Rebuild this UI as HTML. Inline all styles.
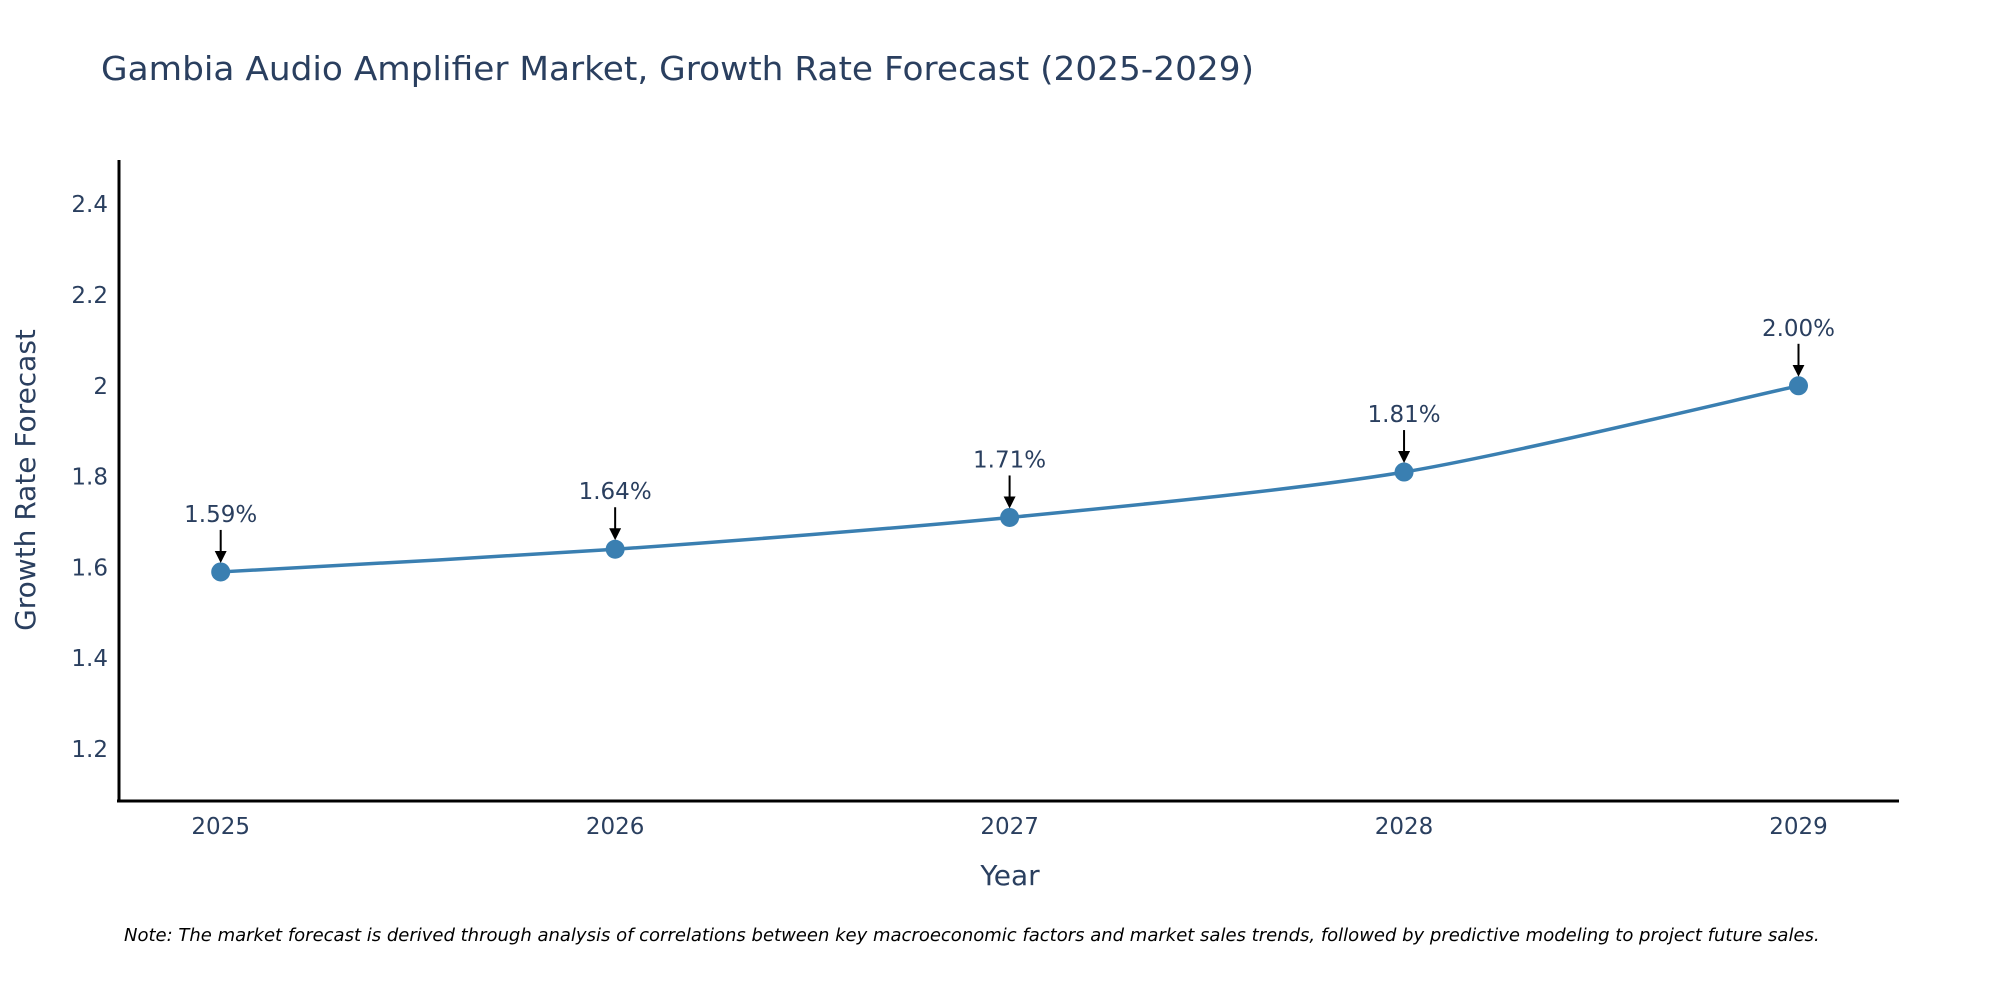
<!DOCTYPE html>
<html><head><meta charset="utf-8"><style>
html,body{margin:0;padding:0;background:#fff;}
svg{display:block;font-family:"DejaVu Sans","Liberation Sans",sans-serif;}
</style></head><body>
<svg id="chart" width="2000" height="1000" viewBox="0 0 2000 1000">
<defs><marker id="ah" markerWidth="6" markerHeight="6" refX="4.5" refY="3" orient="auto" markerUnits="strokeWidth"><path d="M0,0 L6,3 L0,6 Z" fill="#000"/></marker></defs>
<text x="101" y="80" font-size="33" fill="#2a3f5f" textLength="1153" lengthAdjust="spacingAndGlyphs">Gambia Audio Amplifier Market, Growth Rate Forecast (2025-2029)</text>
<g id="yticks"></g>
<g id="xticks"></g>
<line x1="119" y1="160" x2="119" y2="802" stroke="#000" stroke-width="3"/>
<line x1="117" y1="801" x2="1899" y2="801" stroke="#000" stroke-width="3"/>
<text transform="translate(35,480) rotate(-90)" text-anchor="middle" font-size="28" fill="#2a3f5f">Growth Rate Forecast</text>
<text x="1010" y="885" text-anchor="middle" font-size="28" fill="#2a3f5f">Year</text>
<g id="series"></g>
<g id="annos"></g>
<text x="124" y="941" font-size="18" font-style="italic" fill="#000">Note: The market forecast is derived through analysis of correlations between key macroeconomic factors and market sales trends, followed by predictive modeling to project future sales.</text>
</svg>
<script>
const years = [2025, 2026, 2027, 2028, 2029];
const values = [1.59, 1.64, 1.71, 1.81, 2.00];
const labels = ["1.59%", "1.64%", "1.71%", "1.81%", "2.00%"];
const yTickVals = [1.2, 1.4, 1.6, 1.8, 2, 2.2, 2.4];
const yTickLabels = ["1.2", "1.4", "1.6", "1.8", "2", "2.2", "2.4"];

const NS = "http://www.w3.org/2000/svg";
function xs(yr){ return 220.7 + (yr - 2025) * 394.45; }
function ys(v){ return 749 - (v - 1.2) / 0.2 * 90.8; }
function mk(tag, attrs, parent){ const e = document.createElementNS(NS, tag); for (const k in attrs) e.setAttribute(k, attrs[k]); parent.appendChild(e); return e; }

const yt = document.getElementById("yticks");
yTickVals.forEach((v, i) => {
  const t = mk("text", {x: 108, y: ys(v) + 8, "text-anchor": "end", "font-size": 23, fill: "#2a3f5f"}, yt);
  
  
  t.textContent = yTickLabels[i];
});
const xt = document.getElementById("xticks");
years.forEach(yr => {
  const t = mk("text", {x: xs(yr), y: 834, "text-anchor": "middle", "font-size": 23, fill: "#2a3f5f"}, xt);
  
  
  t.textContent = String(yr);
});

const pts = years.map((yr, i) => [xs(yr), ys(values[i])]);
let d = "M" + pts[0][0] + "," + pts[0][1];
const sm = 0.4 / 3;
for (let i = 0; i < pts.length - 1; i++) {
  const p0 = pts[Math.max(i - 1, 0)], p1 = pts[i], p2 = pts[i + 1], p3 = pts[Math.min(i + 2, pts.length - 1)];
  const c1 = [p1[0] + (p2[0] - p0[0]) * sm, p1[1] + (p2[1] - p0[1]) * sm];
  const c2 = [p2[0] - (p3[0] - p1[0]) * sm, p2[1] - (p3[1] - p1[1]) * sm];
  d += " C" + c1 + " " + c2 + " " + p2;
}
const s = document.getElementById("series");
const line = mk("path", {d: d, fill: "none", stroke: "#3a7fb1", "stroke-width": 3.5}, s);


pts.forEach(p => {
  const c = mk("circle", {cx: p[0], cy: p[1], r: 9.5, fill: "#3a7fb1"}, s);
  
  
});

const a = document.getElementById("annos");
pts.forEach((p, i) => {
  const ar = mk("line", {x1: p[0], y1: p[1] - 42, x2: p[0], y2: p[1] - 12, stroke: "#000", "stroke-width": 2, "marker-end": "url(#ah)"}, a);
  
  
  const t = mk("text", {x: p[0], y: p[1] - 50, "text-anchor": "middle", "font-size": 23, fill: "#2a3f5f"}, a);
  
  
  t.textContent = labels[i];
});
</script>
</body></html>
